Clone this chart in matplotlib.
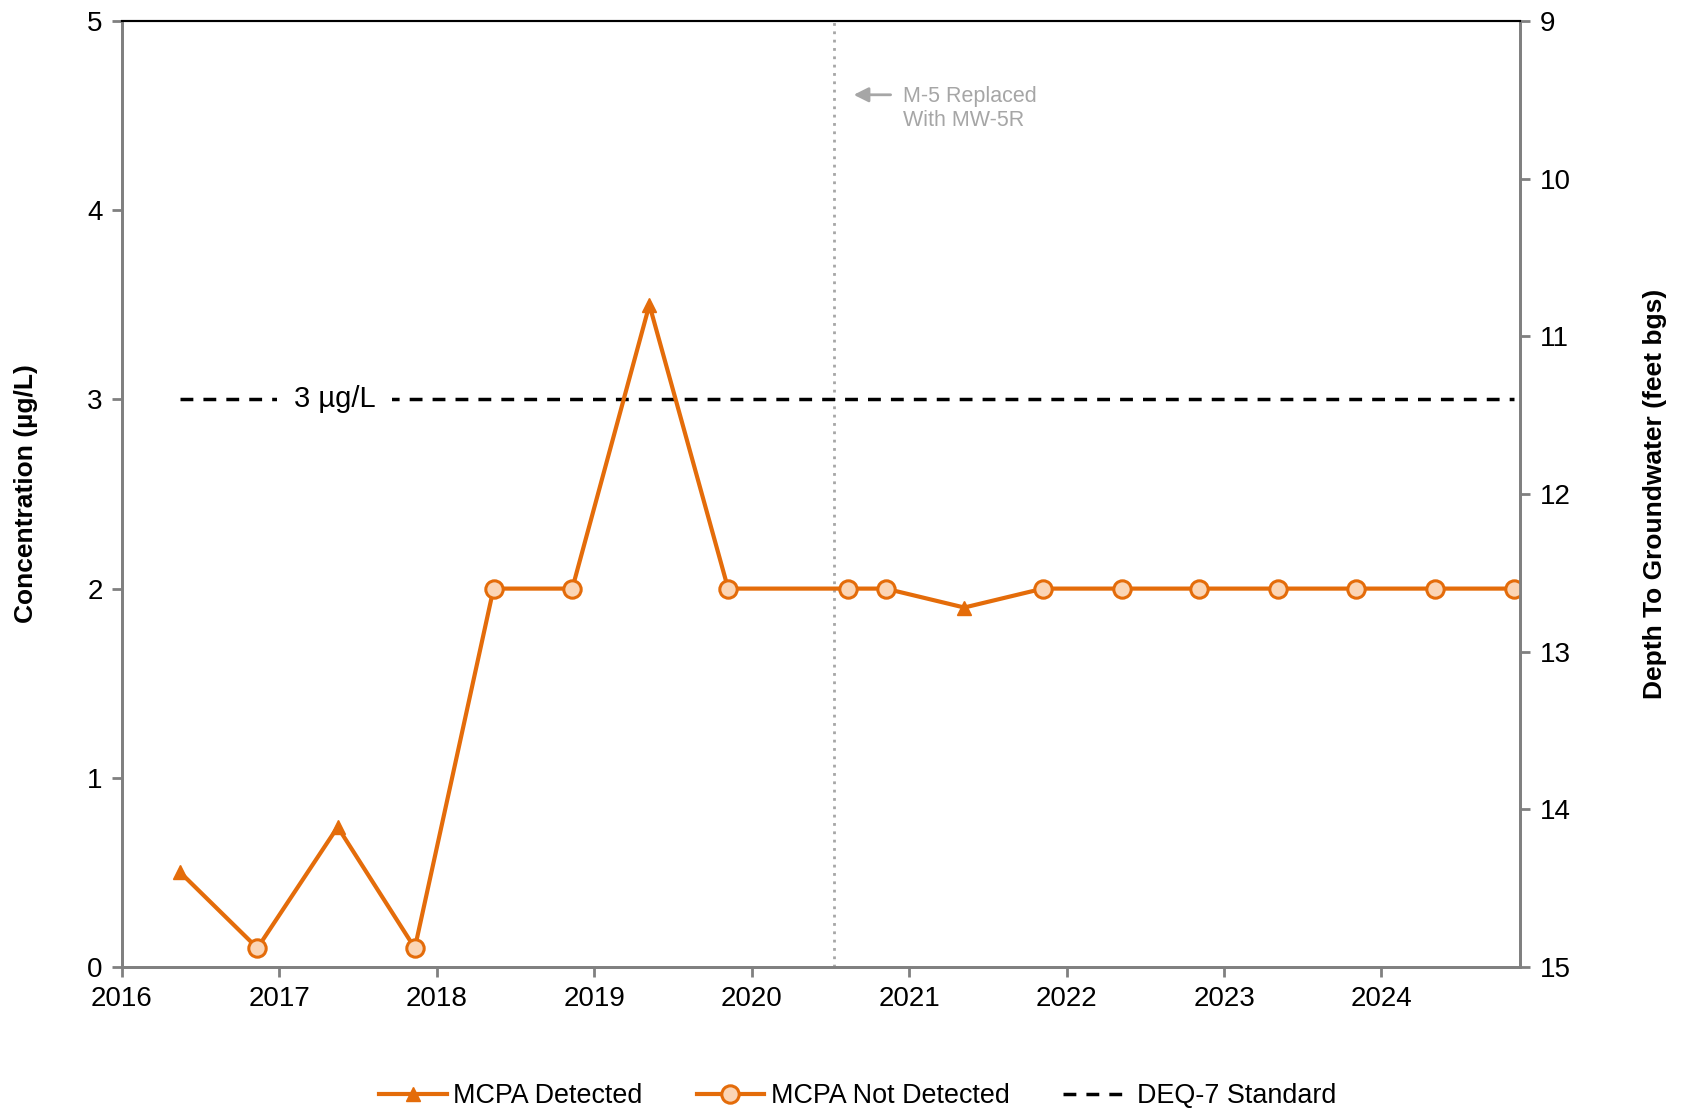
import numpy as np
import matplotlib.pyplot as plt
from matplotlib.lines import Line2D

plt.rcParams['font.family'] = ['Liberation Sans', 'DejaVu Sans']

# sample dates (decimal years) and MCPA concentrations (ug/L)
dates = [2016.37, 2016.86, 2017.37, 2017.86, 2018.36, 2018.86, 2019.35, 2019.85,
         2020.61, 2020.85, 2021.35, 2021.85, 2022.35, 2022.84, 2023.34, 2023.84,
         2024.34, 2024.84]
conc = [0.5, 0.1, 0.74, 0.1, 2.0, 2.0, 3.5, 2.0,
        2.0, 2.0, 1.9, 2.0, 2.0, 2.0, 2.0, 2.0,
        2.0, 2.0]
detected = [True, False, True, False, False, False, True, False,
            False, False, True, False, False, False, False, False,
            False, False]

standard = 3.0
replace_date = 2020.52
years = list(range(2016, 2025))

orange = '#E46C0A'
light = '#FBD5B5'
grey = '#808080'
note_grey = '#A6A6A6'
dash = (0, (3.7, 2.9))

dates = np.array(dates)
conc = np.array(conc)
detected = np.array(detected)

fig = plt.figure(figsize=(16.9, 11.2), dpi=100)
ax = fig.add_axes([122/1690, 1 - 967/1120, (1520-122)/1690, (967-21)/1120])

ax.plot(dates, conc, color=orange, lw=3, zorder=3)
ax.plot(dates[detected], conc[detected], ls='none', marker='^', ms=9.5,
        color=orange, zorder=4)
ax.plot(dates[~detected], conc[~detected], ls='none', marker='o', ms=12.5,
        mfc=light, mec=orange, mew=2.2, zorder=4)

ax.plot([dates[0], dates[-1]], [standard, standard], color='black', ls=dash,
        lw=2.5, zorder=2)
ax.text(2017.35, standard, '3 µg/L', fontsize=21, ha='center', va='center',
        bbox=dict(facecolor='white', edgecolor='none', pad=12), zorder=2.5)

ax.axvline(replace_date, color=note_grey, ls=(0, (1, 2)), lw=2, zorder=1)
ax.annotate('', xy=(2020.63, 4.61), xytext=(2020.9, 4.61),
            arrowprops=dict(arrowstyle='-|>', color=note_grey, lw=2, mutation_scale=22))
ax.text(2020.96, 4.655, 'M-5 Replaced\nWith MW-5R', fontsize=15.5,
        color=note_grey, va='top', ha='left', linespacing=1.15)

ax.set_xlim(2016, 2024.88)
ax.set_ylim(0, 5)
ax.set_xticks(years)
ax.set_xticklabels([str(y) for y in years])
ax.set_yticks(range(0, 6))
ax.set_ylabel('Concentration (µg/L)', fontsize=19, fontweight='bold', labelpad=35)

ax2 = ax.twinx()
ax2.set_ylim(15, 9)
ax2.set_yticks(range(9, 16))
ax2.set_ylabel('Depth To Groundwater (feet bgs)', fontsize=19, fontweight='bold',
               labelpad=52)

for a in (ax, ax2):
    for side in ('left', 'right', 'bottom'):
        a.spines[side].set_color(grey)
        a.spines[side].set_linewidth(2)
    a.spines['top'].set_color('black')
    a.spines['top'].set_linewidth(1.5)
    a.tick_params(length=7, width=2, color=grey, labelsize=20, pad=7)

handles = [
    Line2D([], [], color=orange, lw=3, marker='^', ms=9.5),
    Line2D([], [], color=orange, lw=3, marker='o', ms=12.5, mfc=light, mec=orange, mew=2.2),
    Line2D([], [], color='black', lw=2.5, ls=dash),
]
labels = ['MCPA Detected', 'MCPA Not Detected', 'DEQ-7 Standard']
fig.legend(handles, labels, loc='center', bbox_to_anchor=(858/1690, 1 - 1096/1120),
           ncol=3, frameon=False, fontsize=19.4, handlelength=2.5, columnspacing=2.0,
           handletextpad=0.25)

fig.savefig('out.png', dpi=100)
